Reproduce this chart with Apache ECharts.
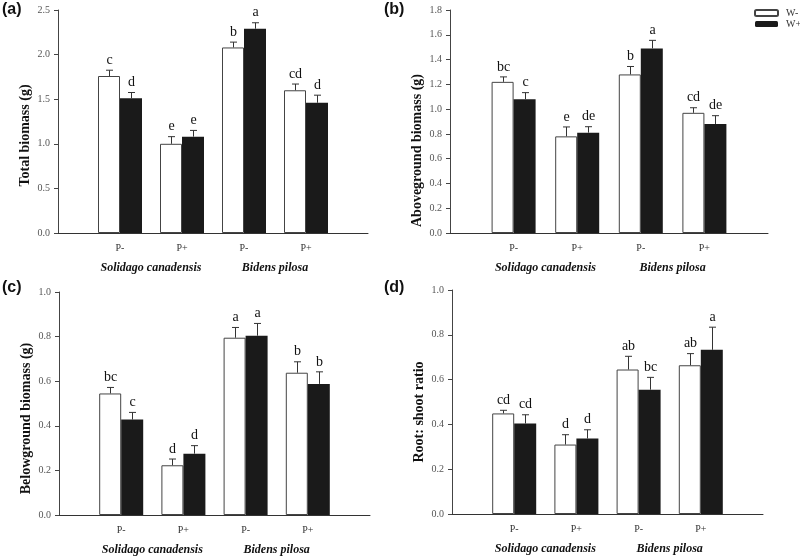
<!DOCTYPE html>
<html>
<head>
<meta charset="utf-8">
<script src="https://cdn.jsdelivr.net/npm/echarts@6/dist/echarts.min.js"></script>
<style>
  html, body { margin: 0; padding: 0; background: #fff; }
  #chart { width: 800px; height: 556px; }
</style>
</head>
<body>
<div id="chart"></div>
<script>
// treatment groups along the x axis
const categories = ['P-', 'P+', 'P-', 'P+']
const species = ['Solidago canadensis', 'Bidens pilosa']

// (a) total biomass
const totalW0 = [1.76, 1.00, 2.08, 1.60]
const totalW0Err = [0.065, 0.08, 0.06, 0.07]
const totalW0Sig = ['c', 'e', 'b', 'cd']
const totalW1 = [1.51, 1.08, 2.29, 1.46]
const totalW1Err = [0.065, 0.07, 0.067, 0.085]
const totalW1Sig = ['d', 'e', 'a', 'd']

// (b) aboveground biomass
const aboveW0 = [1.22, 0.78, 1.28, 0.97]
const aboveW0Err = [0.04, 0.076, 0.064, 0.041]
const aboveW0Sig = ['bc', 'e', 'b', 'cd']
const aboveW1 = [1.08, 0.81, 1.49, 0.88]
const aboveW1Err = [0.053, 0.048, 0.065, 0.067]
const aboveW1Sig = ['c', 'de', 'a', 'de']

// (c) belowground biomass
const belowW0 = [0.545, 0.223, 0.795, 0.638]
const belowW0Err = [0.027, 0.028, 0.046, 0.049]
const belowW0Sig = ['bc', 'd', 'a', 'b']
const belowW1 = [0.428, 0.275, 0.804, 0.588]
const belowW1Err = [0.032, 0.036, 0.055, 0.054]
const belowW1Sig = ['c', 'd', 'a', 'b']

// (d) root:shoot ratio
const ratioW0 = [0.449, 0.31, 0.645, 0.664]
const ratioW0Err = [0.014, 0.044, 0.059, 0.052]
const ratioW0Sig = ['cd', 'd', 'ab', 'ab']
const ratioW1 = [0.404, 0.337, 0.555, 0.733]
const ratioW1Err = [0.039, 0.039, 0.055, 0.101]
const ratioW1Sig = ['cd', 'd', 'bc', 'a']

const serif = '"Liberation Serif", "Times New Roman", serif'
const BAR_W = 22

// nameShift: the y titles in the original sit a bit below the axis middle
const panels = [
  { tag: '(a)', name: 'Total biomass (g)', max: 2.5, step: 0.5, nameShift: 14,
    grid: { left: 58, top: 10, width: 310, height: 223 },
    w0: [totalW0, totalW0Err, totalW0Sig], w1: [totalW1, totalW1Err, totalW1Sig] },
  { tag: '(b)', name: 'Aboveground biomass (g)', max: 1.8, step: 0.2, nameShift: 29,
    grid: { left: 450, top: 10, width: 318, height: 223 },
    w0: [aboveW0, aboveW0Err, aboveW0Sig], w1: [aboveW1, aboveW1Err, aboveW1Sig] },
  { tag: '(c)', name: 'Belowground biomass (g)', max: 1.0, step: 0.2, nameShift: 15,
    grid: { left: 59, top: 292, width: 311, height: 223 },
    w0: [belowW0, belowW0Err, belowW0Sig], w1: [belowW1, belowW1Err, belowW1Sig] },
  { tag: '(d)', name: 'Root: shoot ratio', max: 1.0, step: 0.2, nameShift: 10,
    grid: { left: 452, top: 290, width: 311, height: 224 },
    w0: [ratioW0, ratioW0Err, ratioW0Sig], w1: [ratioW1, ratioW1Err, ratioW1Sig] }
]
const tagPos = [[2, 2], [384, 2], [2, 280], [384, 280]]

// padded axis: empty slot at each end, like the original
const xData = [''].concat(categories, [''])
const speciesData = ['', '', '', species[0], '', '', '', species[1], '', '', '']

function errorSeries(name, k, vals, dx) {
  const [means, errs, sig] = vals
  return {
    name: name,
    type: 'custom',
    xAxisIndex: 2 * k,
    yAxisIndex: k,
    z: 5,
    encode: { x: 0, y: [1, 2] },
    data: means.map((m, i) => [i + 1, m, m + errs[i], sig[i]]),
    renderItem(params, api) {
      const base = api.coord([api.value(0), api.value(1)])
      const top = api.coord([api.value(0), api.value(2)])
      const x = Math.round(base[0] + dx) + 0.5
      const st = { stroke: '#333', lineWidth: 1 }
      return {
        type: 'group',
        children: [
          { type: 'line', shape: { x1: x, y1: base[1], x2: x, y2: top[1] }, style: st },
          { type: 'line', shape: { x1: x - 3.5, y1: top[1], x2: x + 3.5, y2: top[1] }, style: st },
          { type: 'text', x: x, y: top[1] - 3,
            style: { text: api.value(3), fill: '#111', font: '14px ' + serif,
              align: 'center', verticalAlign: 'bottom' } }
        ]
      }
    }
  }
}

const grid = []
const xAxis = []
const yAxis = []
const series = []
const title = []

panels.forEach((p, k) => {
  grid.push(p.grid)
  title.push({ text: p.tag, left: tagPos[k][0], top: tagPos[k][1], padding: 0,
    textStyle: { fontSize: 16, fontWeight: 'bold', fontFamily: '"Liberation Sans", Arial, sans-serif', color: '#111' } })
  xAxis.push({
    type: 'category', gridIndex: k, data: xData, boundaryGap: false,
    axisLine: { lineStyle: { color: '#333', width: 1 } },
    axisTick: { show: false },
    axisLabel: { interval: 0, margin: 10, fontSize: 10, fontFamily: serif, color: '#333' }
  })
  xAxis.push({
    type: 'category', gridIndex: k, data: speciesData, boundaryGap: false, position: 'bottom',
    axisLine: { show: false }, axisTick: { show: false },
    axisLabel: { interval: 0, margin: 29, fontSize: 12, fontFamily: serif,
      fontWeight: 'bold', fontStyle: 'italic', color: '#111' }
  })
  yAxis.push({
    type: 'value', gridIndex: k, min: 0, max: p.max, interval: p.step,
    name: p.name, nameLocation: 'middle', nameGap: 26,
    nameTextStyle: { fontSize: 14, fontWeight: 'bold', fontFamily: serif, color: '#111',
      padding: [0, p.nameShift * 2, 0, 0] },
    splitLine: { show: false },
    axisLine: { show: true, lineStyle: { color: '#444', width: 1 } },
    axisTick: { show: true, length: 4, lineStyle: { color: '#444' } },
    axisLabel: { margin: 8, fontSize: 10, fontFamily: serif, color: '#555',
      formatter: v => v.toFixed(1) }
  })
  series.push({
    name: 'W-', type: 'bar', xAxisIndex: 2 * k, yAxisIndex: k,
    barWidth: BAR_W, barGap: '0%',
    itemStyle: { color: '#fff', borderColor: '#444', borderWidth: 1 },
    data: [null].concat(p.w0[0], [null])
  })
  series.push({
    name: 'W+', type: 'bar', xAxisIndex: 2 * k, yAxisIndex: k,
    barWidth: BAR_W, barGap: '0%',
    itemStyle: { color: '#1a1a1a' },
    data: [null].concat(p.w1[0], [null])
  })
  series.push(errorSeries('W- err', k, p.w0, -BAR_W / 2))
  series.push(errorSeries('W+ err', k, p.w1, BAR_W / 2))
})

const chart = echarts.init(document.getElementById('chart'))
chart.setOption({
  backgroundColor: '#fff',
  animation: false,
  title: title,
  legend: {
    data: ['W-', 'W+'],
    orient: 'vertical', left: 754, top: 8,
    itemWidth: 23, itemHeight: 6, itemGap: 1, padding: 0,
    textStyle: { fontSize: 10, fontFamily: serif, color: '#333', padding: [0, 0, 0, 3] }
  },
  grid: grid,
  xAxis: xAxis,
  yAxis: yAxis,
  series: series
})
</script>
</body>
</html>
